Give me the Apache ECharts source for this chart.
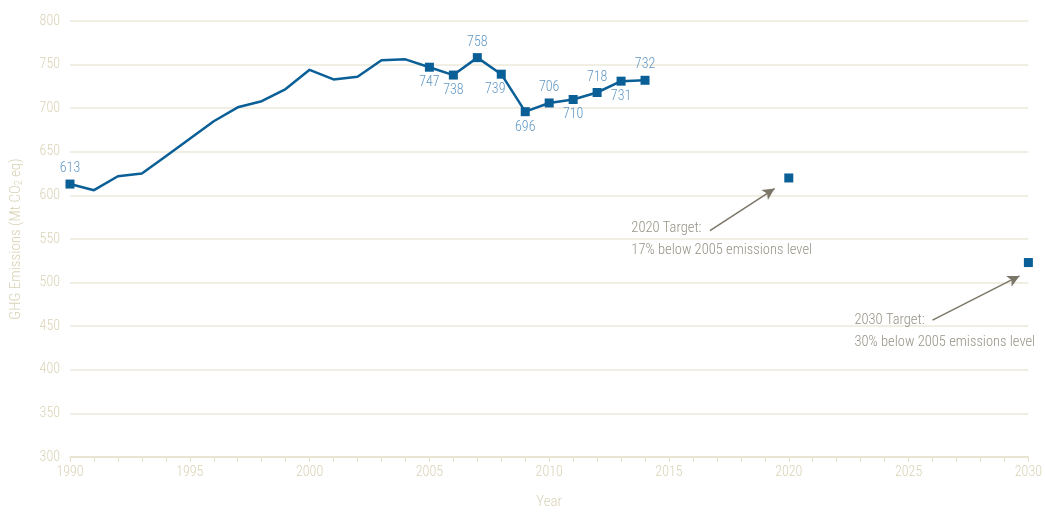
<!DOCTYPE html>
<html><head><meta charset="utf-8">
<script src="https://cdn.jsdelivr.net/npm/echarts@6/dist/echarts.min.js"></script>
<style>html,body{margin:0;padding:0;background:#fff;overflow:hidden}#c{width:1045px;height:515px}</style>
</head><body><div id="c"></div>
<script>
const years = [1990,1991,1992,1993,1994,1995,1996,1997,1998,1999,2000,2001,2002,2003,2004,2005,2006,2007,2008,2009,2010,2011,2012,2013,2014];
const emissions = [613,606,622,625,645,665,685,701,708,722,744,733,736,755,756,747,738,758,739,696,706,710,718,731,732];
const labelledYears = [1990,2005,2006,2007,2008,2009,2010,2011,2012,2013,2014];
const labelPos = {1990:'top',2005:'bottom',2006:'bottom',2007:'top',2008:'bottom',2009:'bottom',2010:'top',2011:'bottom',2012:'top',2013:'bottom',2014:'top'};
const targetYears = [2020,2030];
const targetValues = [620,523];
const targetTexts = ['2020 Target:\n17% below 2005 emissions level','2030 Target:\n30% below 2005 emissions level'];
const textAnchors = [[2013.43,561.7],[2022.74,457]];
const arrows = [[[2016.71,559.5],[2019.41,607.9]],[[2026.0,457],[2029.63,507.7]]];

const FONT = "'Roboto Condensed','Open Sans Condensed',sans-serif";
const AX = '#d9d3b6';
const LINE = '#0b5f97';
const LBL = '#5f97c4';
const ANN = '#7b7667';

const mainData = years.map((y,i)=>{
  const lab = labelledYears.includes(y);
  return {
    value:[y,emissions[i]],
    symbol: lab ? 'rect' : 'none',
    label: lab ? {show:true, position: labelPos[y], distance: 4, offset: y===2008?[-6,0]:[0,0]} : {show:false}
  };
});

const chart = echarts.init(document.getElementById('c'));
chart.setOption({
  animation:false,
  textStyle:{fontFamily:FONT},
  grid:{left:70,right:12,top:21,bottom:50},
  xAxis:{type:'value',min:1990,max:2030,interval:5,
    name:'Year',nameLocation:'middle',nameGap:38,
    nameTextStyle:{color:AX,fontSize:15,fontFamily:FONT,fontWeight:300},
    axisLine:{lineStyle:{color:'#e6e1cc',width:1.5}},
    axisTick:{show:true,length:5,lineStyle:{color:'#e6e1cc'}},
    minorTick:{show:true,splitNumber:5,length:5,lineStyle:{color:'#e6e1cc'}},
    axisLabel:{color:AX,fontSize:14,margin:8,fontFamily:FONT,fontWeight:300,formatter:v=>String(v)},
    splitLine:{show:false}},
  yAxis:{type:'value',min:300,max:800,interval:50,
    name:'GHG Emissions (Mt CO{s|2} eq)',nameLocation:'middle',nameGap:46,nameRotate:90,
    nameTextStyle:{color:AX,fontSize:15,fontFamily:FONT,fontWeight:300,rich:{s:{fontSize:10,verticalAlign:'bottom',color:AX,fontFamily:FONT,fontWeight:300}}},
    axisLine:{show:false},axisTick:{show:false},
    axisLabel:{color:AX,fontSize:14,margin:10,fontFamily:FONT,fontWeight:300},
    splitLine:{lineStyle:{color:'#ece8da',width:1.5}}},
  series:[
    {type:'line',data:mainData,symbolSize:9,lineStyle:{color:LINE,width:2.5},itemStyle:{color:LINE},
     label:{color:LBL,fontSize:14,fontFamily:FONT,fontWeight:300}},
    {type:'scatter',data:targetYears.map((y,i)=>[y,targetValues[i]]),symbol:'rect',symbolSize:9,itemStyle:{color:LINE,opacity:1}},
    {type:'scatter',data:textAnchors.map((a,i)=>({value:a,label:{formatter:targetTexts[i]}})),symbolSize:0,
     label:{show:true,position:'right',distance:0,color:ANN,fontSize:14.5,lineHeight:22,align:'left',fontFamily:FONT,fontWeight:300,offset:[0,11]},
     markLine:{silent:true,symbol:['none','arrow'],symbolSize:[9,12],
       lineStyle:{color:ANN,width:1.5,type:'solid'},label:{show:false},
       data:arrows.map(a=>[{coord:a[0]},{coord:a[1]}])}}
  ]
});
</script></body></html>
